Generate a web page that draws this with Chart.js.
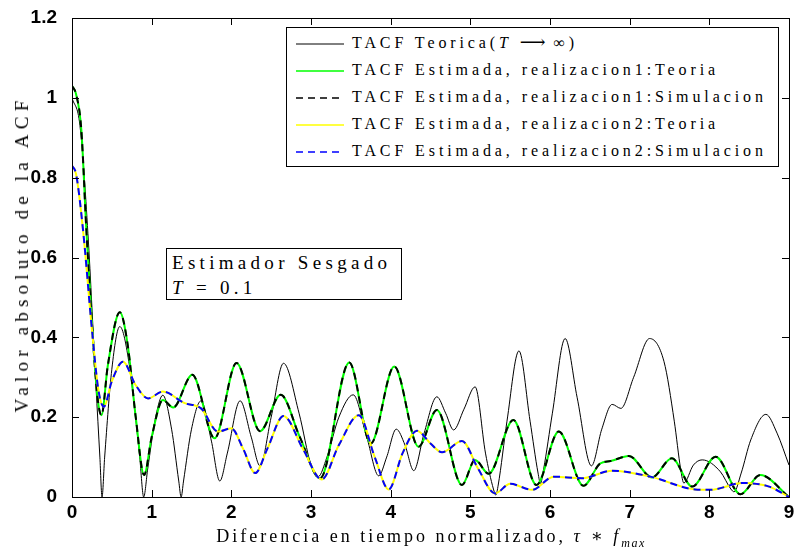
<!DOCTYPE html>
<html>
<head>
<meta charset="utf-8">
<title>TACF</title>
<script src="https://cdn.jsdelivr.net/npm/chart.js@4.4.1/dist/chart.umd.min.js"></script>
<style>
    html, body { margin: 0; padding: 0; background: #fff; }
    #wrap { position: relative; width: 794px; height: 552px; }
    #wrap canvas { position: absolute; left: 0; top: 0; }
    .serif {
        position: absolute;
        font-family: 'Liberation Serif', 'DejaVu Serif', serif;
        color: #000;
        white-space: nowrap;
    }
    #legend {
        left: 286px; top: 27px; width: 493px; height: 140px;
        border: 1px solid #000; background: #fff; box-sizing: border-box;
        font-size: 16px; letter-spacing: 3.9px;
    }
    #legend .row { position: absolute; left: 0; height: 27px; width: 100%; }
    #legend svg { position: absolute; left: 9px; top: 12px; }
    #legend .txt { position: absolute; left: 65px; top: 3px; line-height: 19px; }
    #note {
        left: 166px; top: 248px; width: 236px; height: 52px;
        border: 1px solid #000; background: #fff; box-sizing: border-box;
        font-size: 19px; letter-spacing: 4.3px; line-height: 25px; padding: 1px 0 0 5px;
    }
    #ytitle {
        left: 22px; top: 254px; font-size: 19px; letter-spacing: 5.2px;
        transform: translate(-50%, -50%) rotate(-90deg);
    }
    #xtitle {
        left: 431px; top: 538px; font-size: 18px; letter-spacing: 3.0px;
        transform: translate(-50%, -50%);
    }
    .arrow { letter-spacing: 0; font-size: 18px; }
</style>
</head>
<body>
<div id="wrap">
    <canvas id="acf-chart" width="794" height="552"></canvas>
    <div id="legend" class="serif"></div>
    <div id="note" class="serif">Estimador Sesgado<br><i>T</i> = 0.1</div>
    <div id="ytitle" class="serif">Valor absoluto de la ACF</div>
    <div id="xtitle" class="serif">Diferencia en tiempo normalizado, <i>τ</i> ∗ <i>f</i><sub style="font-size:12px;letter-spacing:1.5px"><i>max</i></sub></div>
</div>
<script>
// Axis ticks
const xTicks = [0, 1, 2, 3, 4, 5, 6, 7, 8, 9];
const yTicks = [0, 0.2, 0.4, 0.6, 0.8, 1, 1.2];

// Theoretical TACF (T -> infinity)
const theoryT = [0, 0.1, 0.2, 0.3, 0.35, 0.377, 0.41, 0.5, 0.6, 0.72, 0.85, 0.9, 0.95, 1.05, 1.14, 1.25, 1.34, 1.37, 1.4, 1.5,
    1.62, 1.75, 1.855, 1.95, 2.11, 2.25, 2.36, 2.5, 2.655, 2.85, 3.0, 3.09, 3.2, 3.35, 3.53, 3.7, 3.85, 3.95, 4.07, 4.18,
    4.29, 4.42, 4.58, 4.69, 4.79, 4.92, 5.06, 5.19, 5.29, 5.32, 5.35, 5.46, 5.61, 5.75, 5.85, 5.88, 5.92, 6.03, 6.19, 6.34,
    6.52, 6.65, 6.78, 6.89, 7.05, 7.25, 7.43, 7.56, 7.64, 7.68, 7.8, 7.91, 8.14, 8.27, 8.31, 8.4, 8.52, 8.71, 8.85, 9.0];
const theoryV = [1.0, 0.93, 0.66, 0.28, 0.1, 0.0, 0.1, 0.32, 0.427, 0.33, 0.1, 0.0, 0.07, 0.2, 0.255, 0.17, 0.04, 0.0, 0.04, 0.17,
    0.241, 0.14, 0.04, 0.11, 0.241, 0.15, 0.078, 0.2, 0.335, 0.21, 0.08, 0.051, 0.1, 0.2, 0.256, 0.15, 0.053, 0.1, 0.17, 0.13,
    0.066, 0.16, 0.251, 0.21, 0.168, 0.22, 0.276, 0.11, 0.02, 0.005, 0.03, 0.19, 0.366, 0.19, 0.06, 0.034, 0.07, 0.21, 0.397, 0.25,
    0.078, 0.17, 0.232, 0.222, 0.3, 0.397, 0.34, 0.19, 0.07, 0.035, 0.08, 0.093, 0.063, 0.02, 0.013, 0.06, 0.143, 0.207, 0.16, 0.08];

// Realization 1 (theory = simulation)
const real1T = [0, 0.05, 0.117, 0.18, 0.255, 0.32, 0.37, 0.45, 0.6, 0.7, 0.8, 0.905, 1.0, 1.14, 1.27, 1.51, 1.79, 2.065, 2.36, 2.62,
    2.86, 3.115, 3.48, 3.75, 4.045, 4.35, 4.58, 4.895, 5.06, 5.23, 5.54, 5.83, 6.11, 6.42, 6.63, 6.76, 6.99, 7.28, 7.53, 7.785,
    8.08, 8.39, 8.64, 9.0];
const real1V = [1.03, 1.01, 0.92, 0.67, 0.42, 0.25, 0.205, 0.33, 0.463, 0.38, 0.2, 0.055, 0.15, 0.243, 0.224, 0.306, 0.147, 0.336, 0.165, 0.256,
    0.15, 0.047, 0.337, 0.134, 0.327, 0.126, 0.218, 0.03, 0.093, 0.058, 0.193, 0.03, 0.164, 0.028, 0.084, 0.09, 0.103, 0.049, 0.097, 0.026,
    0.101, 0.007, 0.055, 0.0];

// Realization 2 (theory = simulation)
const real2T = [0, 0.05, 0.138, 0.25, 0.33, 0.4, 0.5, 0.64, 0.8, 0.955, 1.14, 1.415, 1.62, 1.83, 2.0, 2.15, 2.3, 2.45, 2.655, 2.9,
    3.135, 3.35, 3.6, 3.8, 3.975, 4.15, 4.33, 4.5, 4.645, 4.895, 5.1, 5.31, 5.5, 5.775, 6.045, 6.4, 6.78, 7.26, 7.82, 8.01,
    8.42, 8.75, 9.0];
const real2V = [0.83, 0.81, 0.67, 0.42, 0.27, 0.226, 0.29, 0.339, 0.28, 0.247, 0.264, 0.235, 0.222, 0.164, 0.172, 0.12, 0.06, 0.12, 0.203, 0.12,
    0.044, 0.13, 0.205, 0.1, 0.019, 0.11, 0.166, 0.134, 0.112, 0.14, 0.07, 0.009, 0.033, 0.018, 0.051, 0.047, 0.066, 0.051, 0.019, 0.018,
    0.035, 0.026, 0.0];

function toPoints(ts, vs) {
    return ts.map((t, i) => ({ x: t, y: vs[i] }));
}

const series = [
    { label: 'TACF Teorica(T → ∞)', t: theoryT, v: theoryV, color: '#000000', width: 1, dash: [], order: 5 },
    { label: 'TACF Estimada, realizacion1:Teoria', t: real1T, v: real1V, color: '#00ff00', width: 2, dash: [], order: 4 },
    { label: 'TACF Estimada, realizacion1:Simulacion', t: real1T, v: real1V, color: '#000000', width: 2, dash: [7, 5], order: 3 },
    { label: 'TACF Estimada, realizacion2:Teoria', t: real2T, v: real2V, color: '#ffff00', width: 2, dash: [], order: 2 },
    { label: 'TACF Estimada, realizacion2:Simulacion', t: real2T, v: real2V, color: '#0000ff', width: 2, dash: [7, 5], order: 1 }
];

// Legend (html so the math can be typeset)
const legendHtml = [
    'TACF Teorica(<i>T</i> <span class="arrow">⟶</span> ∞)',
    'TACF Estimada, realizacion1:Teoria',
    'TACF Estimada, realizacion1:Simulacion',
    'TACF Estimada, realizacion2:Teoria',
    'TACF Estimada, realizacion2:Simulacion'
];
const legend = document.getElementById('legend');
series.forEach((s, i) => {
    const row = document.createElement('div');
    row.className = 'row';
    row.style.top = (2 + i * 27) + 'px';
    const dash = s.dash.length ? ' stroke-dasharray="' + s.dash.join(' ') + '"' : '';
    row.innerHTML = '<svg width="48" height="4"><line x1="0" y1="2" x2="48" y2="2" stroke="' + s.color +
        '" stroke-width="' + (s.order === 5 ? 1 : 1.5) + '"' + dash + '/></svg><span class="txt">' + legendHtml[i] + '</span>';
    legend.appendChild(row);
});

// Box with inward ticks on all four sides, like the original
const frameTicks = {
    id: 'frameTicks',
    afterDraw(chart) {
        const { ctx, chartArea: a, scales: { x, y } } = chart;
        ctx.save();
        ctx.strokeStyle = '#000';
        ctx.lineWidth = 1;
        ctx.beginPath();
        xTicks.forEach(v => {
            const px = Math.round(x.getPixelForValue(v)) + 0.5;
            ctx.moveTo(px, a.bottom); ctx.lineTo(px, a.bottom - 7);
            ctx.moveTo(px, a.top); ctx.lineTo(px, a.top + 7);
        });
        yTicks.forEach(v => {
            const py = Math.round(y.getPixelForValue(v)) + 0.5;
            ctx.moveTo(a.left, py); ctx.lineTo(a.left + 7, py);
            ctx.moveTo(a.right, py); ctx.lineTo(a.right - 7, py);
        });
        ctx.stroke();
        ctx.strokeRect(Math.round(a.left) + 0.5, Math.round(a.top) + 0.5,
            Math.round(a.right - a.left), Math.round(a.bottom - a.top));
        ctx.restore();
    }
};

const tickFont = { family: "'Liberation Sans', Arial, sans-serif", size: 19, weight: 'bold' };

new Chart(document.getElementById('acf-chart'), {
    type: 'line',
    data: {
        datasets: series.map(s => ({
            label: s.label,
            data: toPoints(s.t, s.v),
            borderColor: s.color,
            borderWidth: s.width,
            borderDash: s.dash,
            pointRadius: 0,
            fill: false,
            cubicInterpolationMode: 'monotone',
            order: s.order
        }))
    },
    options: {
        responsive: false,
        animation: false,
        layout: { padding: { top: 18, right: 5, left: 0, bottom: 0 } },
        plugins: {
            legend: { display: false },
            tooltip: { enabled: false }
        },
        scales: {
            x: {
                type: 'linear',
                min: 0,
                max: 9,
                grid: { display: false, drawTicks: false },
                border: { display: false },
                afterBuildTicks: s => { s.ticks = xTicks.map(v => ({ value: v })); },
                afterFit: s => { s.height = 55; s.paddingLeft = 0; s.paddingRight = 0; },
                ticks: { color: '#000', font: tickFont, padding: 4, maxRotation: 0 }
            },
            y: {
                min: 0,
                max: 1.2,
                grid: { display: false, drawTicks: false },
                border: { display: false },
                afterBuildTicks: s => { s.ticks = yTicks.map(v => ({ value: v })); },
                afterFit: s => { s.width = 72; s.paddingTop = 0; s.paddingBottom = 0; },
                ticks: { color: '#000', font: tickFont, padding: 15, callback: v => String(v) }
            }
        }
    },
    plugins: [frameTicks]
});
</script>
</body>
</html>
